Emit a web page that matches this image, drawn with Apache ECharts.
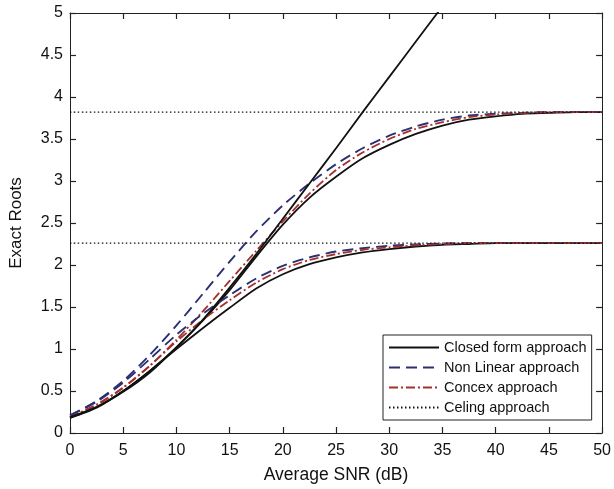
<!DOCTYPE html>
<html>
<head>
<meta charset="utf-8">
<script src="https://cdn.jsdelivr.net/npm/echarts@6/dist/echarts.min.js"></script>
<style>
html,body{margin:0;padding:0;background:#fff;}
#c{width:614px;height:489px;}
</style>
</head>
<body>
<div id="c"></div>
<script>
// ---- data ----
var snr = [0, 2.5, 5, 7.5, 10, 12.5, 15, 17.5, 20, 22.5, 25, 27.5, 30, 32.5, 35, 37.5, 40, 42.5, 45, 47.5, 50];

// Unbounded closed-form line (runs off the top of the plot)
var closedLine = [0.19, 0.31, 0.49, 0.72, 1.02, 1.35, 1.73, 2.13, 2.55, 2.97, 3.39, 3.82, 4.24, 4.66, 5.08];

// Upper group (ceiling 3.82)
var closedUpper = [0.18, 0.31, 0.50, 0.74, 1.02, 1.34, 1.70, 2.10, 2.48, 2.80, 3.05, 3.27, 3.43, 3.56, 3.66, 3.73, 3.77, 3.80, 3.81, 3.82, 3.82];
var nonLinUpper = [0.21, 0.38, 0.62, 0.93, 1.28, 1.66, 2.04, 2.40, 2.71, 2.97, 3.20, 3.39, 3.54, 3.65, 3.73, 3.78, 3.80, 3.81, 3.82, 3.82, 3.82];
var convexUpper = [0.19, 0.34, 0.54, 0.80, 1.11, 1.45, 1.81, 2.17, 2.52, 2.85, 3.13, 3.34, 3.50, 3.62, 3.70, 3.76, 3.79, 3.81, 3.82, 3.82, 3.82];

// Lower group (ceiling 2.26)
var closedLower = [0.18, 0.30, 0.50, 0.74, 1.00, 1.25, 1.49, 1.72, 1.89, 2.01, 2.09, 2.15, 2.19, 2.22, 2.24, 2.25, 2.26, 2.26, 2.26, 2.26, 2.26];
var nonLinLower = [0.21, 0.37, 0.60, 0.88, 1.17, 1.42, 1.64, 1.84, 1.99, 2.09, 2.16, 2.20, 2.23, 2.245, 2.255, 2.26, 2.26, 2.26, 2.26, 2.26, 2.26];
var convexLower = [0.19, 0.33, 0.54, 0.80, 1.09, 1.35, 1.58, 1.79, 1.95, 2.06, 2.13, 2.18, 2.21, 2.235, 2.25, 2.26, 2.26, 2.26, 2.26, 2.26, 2.26];

// Ceiling levels
var ceilingUpper = 3.82;
var ceilingLower = 2.26;
var ceilingX = [0, 50];

var xTicks = [0, 5, 10, 15, 20, 25, 30, 35, 40, 45, 50];
var yTicks = [0, 0.5, 1, 1.5, 2, 2.5, 3, 3.5, 4, 4.5, 5];

var names = ['Closed form approach', 'Non Linear approach', 'Concex approach', 'Celing approach'];

// ---- build ----
function pairs(xs, ys) {
  var out = [];
  for (var i = 0; i < ys.length; i++) out.push([xs[i], ys[i]]);
  return out;
}
function flat(xs, v) { return xs.map(function (x) { return [x, v]; }); }

var BLACK = '#111111', BLUE = '#2c2f73', RED = '#a3302c';
var FONT = 'Liberation Sans';

function lineSeries(name, data, color, type, width) {
  return {
    name: name, type: 'line', data: data, showSymbol: false, symbol: 'none',
    smooth: 0.25, clip: true, animation: false,
    lineStyle: { color: color, width: width, type: type },
    itemStyle: { color: color }
  };
}

var dashBlue = [11, 6];
var dashDot = [9, 3, 2, 3];
var dots = [1.5, 2.5];

var series = [
  lineSeries(names[0], pairs(snr, closedUpper), BLACK, 'solid', 1.8),
  lineSeries(names[1], pairs(snr, nonLinUpper), BLUE, dashBlue, 1.9),
  lineSeries(names[2], pairs(snr, convexUpper), RED, dashDot, 1.8),
  lineSeries(names[3], flat(ceilingX, ceilingUpper), BLACK, dots, 1.4),
  lineSeries(names[0], pairs(snr, closedLower), BLACK, 'solid', 1.8),
  lineSeries(names[1], pairs(snr, nonLinLower), BLUE, dashBlue, 1.9),
  lineSeries(names[2], pairs(snr, convexLower), RED, dashDot, 1.8),
  lineSeries(names[3], flat(ceilingX, ceilingLower), BLACK, dots, 1.4),
  lineSeries(names[0], pairs(snr, closedLine), BLACK, 'solid', 1.8)
];

function axisCommon(pos, labels, margin) {
  return {
    type: 'value', position: pos,
    axisLine: { show: true, onZero: false, lineStyle: { color: '#222', width: 1 } },
    axisTick: { show: true, inside: true, length: 6, lineStyle: { color: '#222', width: 1.2 } },
    splitLine: { show: false },
    axisLabel: labels ? { show: true, fontFamily: FONT, fontSize: 16, color: '#111', margin: margin } : { show: false }
  };
}

var xb = axisCommon('bottom', true, 10);
xb.min = xTicks[0]; xb.max = xTicks[xTicks.length - 1]; xb.interval = 5;
xb.name = 'Average SNR (dB)'; xb.nameLocation = 'middle'; xb.nameGap = 33;
xb.nameTextStyle = { fontFamily: FONT, fontSize: 17.5, color: '#111' };
var xt = axisCommon('top', false, 0);
xt.min = xTicks[0]; xt.max = xTicks[xTicks.length - 1]; xt.interval = 5;

var yl = axisCommon('left', true, 7);
yl.min = yTicks[0]; yl.max = yTicks[yTicks.length - 1]; yl.interval = 0.5;
yl.name = 'Exact Roots'; yl.nameLocation = 'middle'; yl.nameGap = 45; yl.nameRotate = 90;
yl.nameTextStyle = { fontFamily: FONT, fontSize: 17, color: '#111' };
var yr = axisCommon('right', false, 0);
yr.min = yTicks[0]; yr.max = yTicks[yTicks.length - 1]; yr.interval = 0.5;

var chart = echarts.init(document.getElementById('c'), null, { renderer: 'canvas' });
chart.setOption({
  animation: false,
  backgroundColor: '#ffffff',
  grid: { left: 69, right: 10, top: 13, bottom: 55, containLabel: false },
  xAxis: [xb, xt],
  yAxis: [yl, yr],
  legend: {
    data: names.map(function (n) { return { name: n }; }),
    orient: 'vertical', left: 383, top: 335,
    padding: [5, 5, 5, 5], itemGap: 5, itemWidth: 50, itemHeight: 14,
    itemStyle: { opacity: 0 },
    backgroundColor: '#ffffff', borderColor: '#222', borderWidth: 1, borderRadius: 0,
    textStyle: { fontFamily: FONT, fontSize: 14.5, color: '#111' },
    selectedMode: false
  },
  series: series
});
</script>
</body>
</html>
